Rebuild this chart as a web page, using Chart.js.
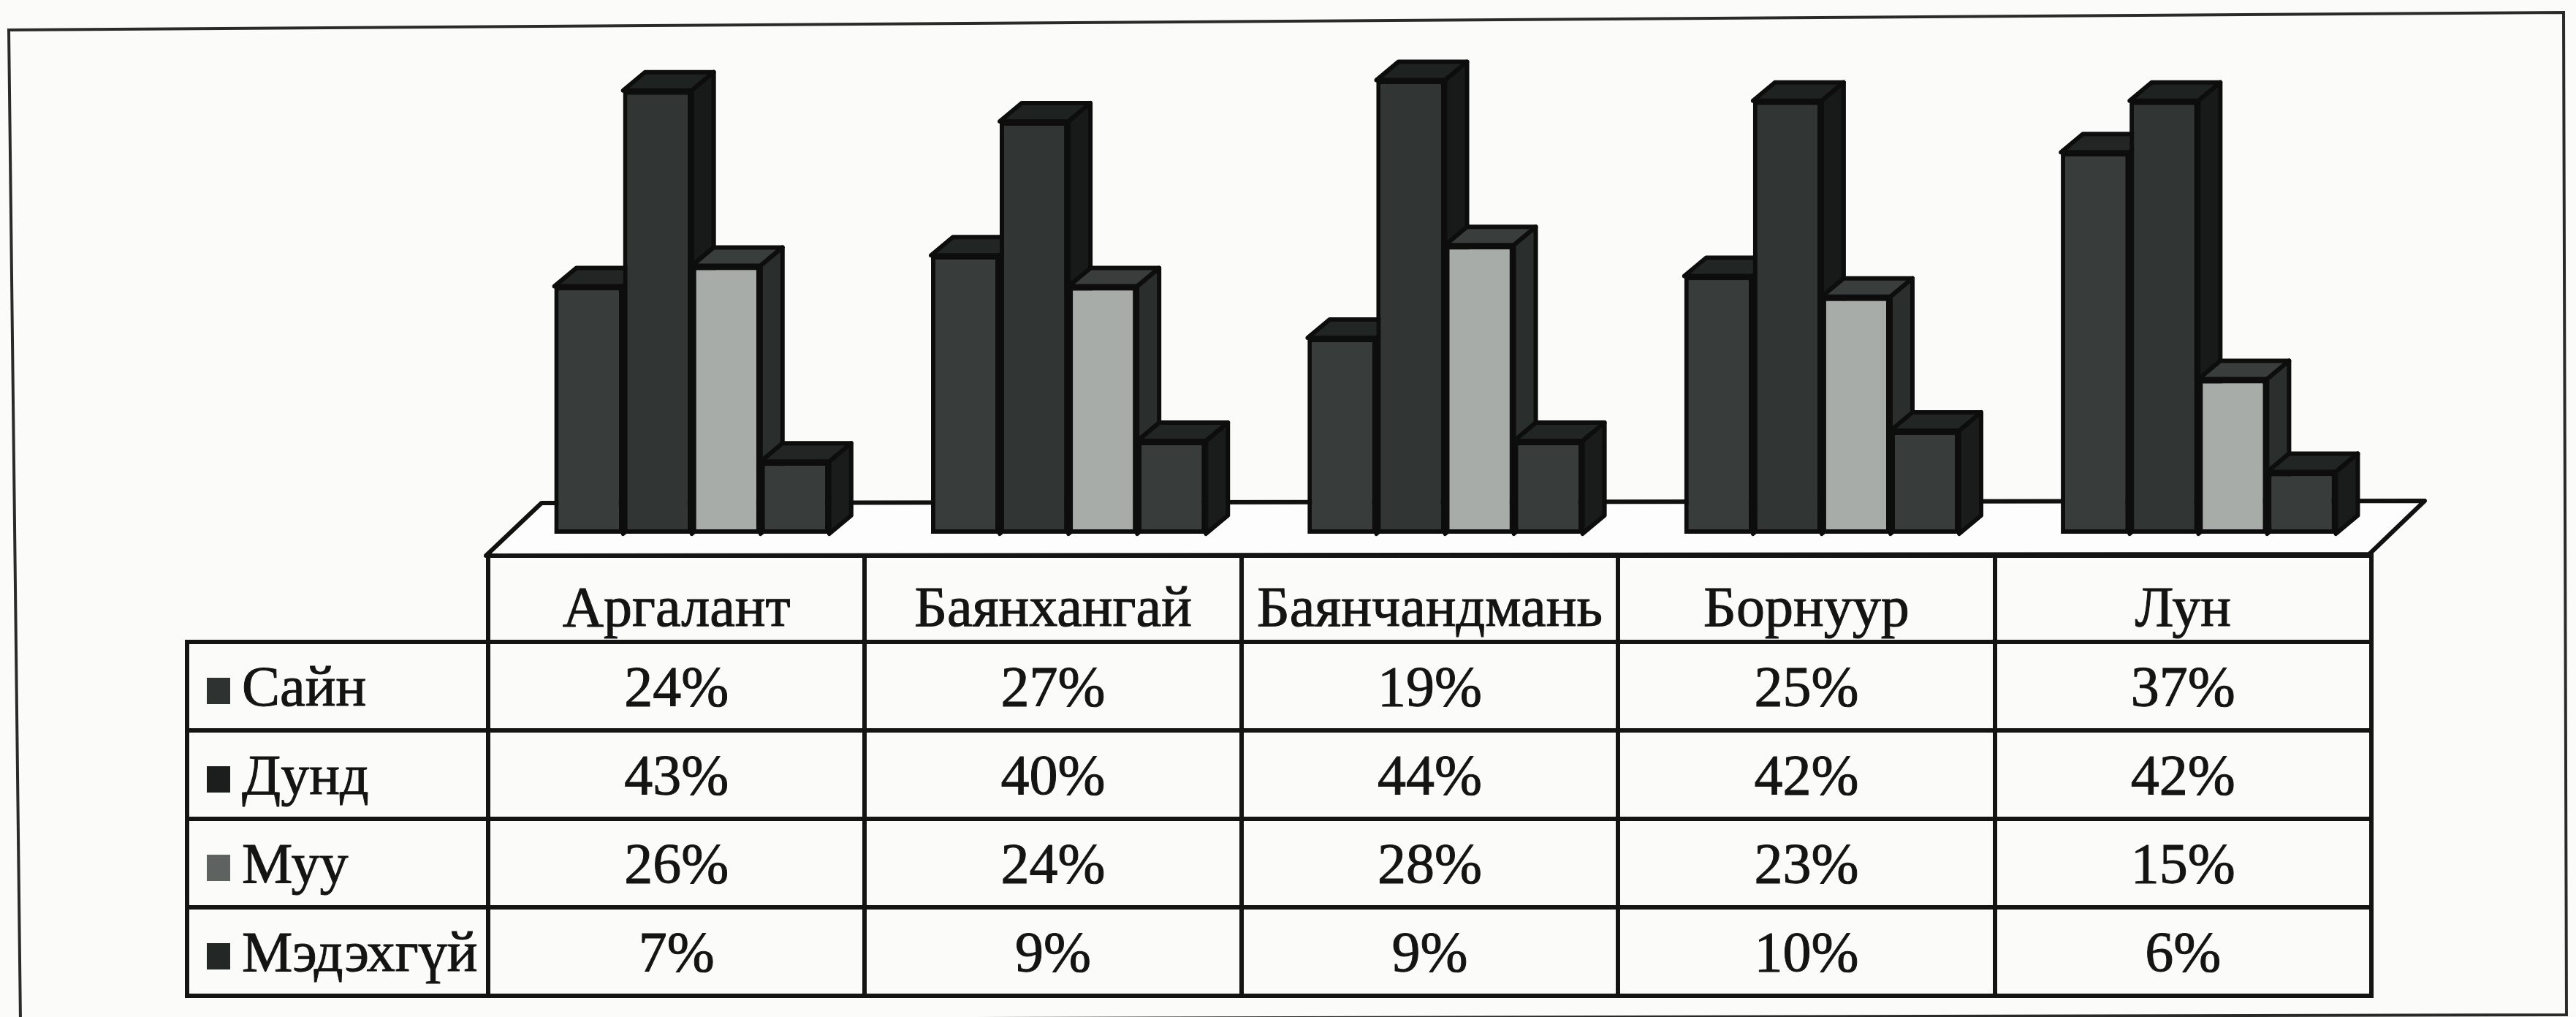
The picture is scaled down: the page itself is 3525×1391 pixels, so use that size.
<!DOCTYPE html>
<html>
<head>
<meta charset="utf-8">
<script src="https://cdn.jsdelivr.net/npm/chart.js@4/dist/chart.umd.min.js"></script>
<style>
    html, body { margin: 0; padding: 0; background: #fbfbfa; }
    #wrap { position: relative; width: 3525px; height: 1391px; overflow: hidden; }
    #chart { position: absolute; left: 0; top: 0; }
    #tbl {
        position: absolute; left: 253px; top: 757px;
        border-collapse: collapse; table-layout: fixed;
        font-family: "Liberation Serif", "DejaVu Serif", serif;
        font-size: 78px; color: #141414;
        -webkit-text-stroke: 1px #141414;
    }
    #tbl th, #tbl td { border: 6px solid #141414; padding: 0; line-height: 78px; white-space: nowrap; }
    #tbl th { height: 106px; vertical-align: bottom; padding-bottom: 6px; font-weight: normal; text-align: center; }
    #tbl th.corner { border-top: none; border-left: none; }
    #tbl td { height: 115px; vertical-align: middle; text-align: center; }
    #tbl td.lg { text-align: left; padding-left: 24px; }
    .mk { display: inline-block; width: 32px; height: 36px; margin-right: 16px; margin-bottom: 2px; vertical-align: baseline; }
</style>
</head>
<body>
<div id="wrap">
    <canvas id="chart" width="3525" height="1391"></canvas>
    <table id="tbl"></table>
</div>
<script>
// ===== data
const categories = ["Аргалант", "Баянхангай", "Баянчандмань", "Борнуур", "Лун"];
const seriesNames = ["Сайн", "Дунд", "Муу", "Мэдэхгүй"];
const sain = [24, 27, 19, 25, 37];
const dund = [43, 40, 44, 42, 42];
const muu = [26, 24, 28, 23, 15];
const medehgui = [7, 9, 9, 10, 6];
const yTicks = [0, 50]; // value range of the (hidden) axis

// ===== styles
const frontColors = ["#383d3c", "#313635", "#a7aca8", "#383d3c"];
const capColors = ["#212524", "#1e2221", "#393d3c", "#212524"];
const sideColors = ["#191c1b", "#171a19", "#2a2e2d", "#191c1b"];
const markColors = ["#2e3332", "#1b1e1d", "#5e6361", "#232726"];
const DEPTH_X = 30;
const DEPTH_Y = 25;

// 3D look: floor + caps + side faces, all taken from the bar elements
const bar3d = {
    id: "bar3d",
    beforeDatasetsDraw(chart) {
        const { ctx, chartArea: a } = chart;
        ctx.save();
        // outer frame (photo is slightly skewed)
        ctx.strokeStyle = "#2a2a2a";
        ctx.lineWidth = 4;
        ctx.beginPath();
        ctx.moveTo(12, 41);
        ctx.lineTo(3508, 17);
        ctx.lineTo(3512, 1388);
        ctx.lineTo(28, 1396);
        ctx.closePath();
        ctx.stroke();

        // floor
        ctx.fillStyle = "#fdfdfd";
        ctx.strokeStyle = "#111";
        ctx.lineWidth = 6;
        ctx.lineJoin = "round";
        ctx.beginPath();
        ctx.moveTo(a.left - 24, a.bottom + 30);
        ctx.lineTo(a.left + 52, a.bottom - 42);
        ctx.lineTo(a.right + 52, a.bottom - 45);
        ctx.lineTo(a.right - 24, a.bottom + 28);
        ctx.closePath();
        ctx.fill();
        ctx.stroke();
        ctx.restore();
    },
    afterDatasetsDraw(chart) {
        const ctx = chart.ctx;
        ctx.save();
        ctx.lineWidth = 6;
        ctx.lineJoin = "round";
        ctx.strokeStyle = "#0d0d0d";
        // left to right so the next front face hides the previous side face
        chart.data.datasets.forEach((ds, di) => {
            const meta = chart.getDatasetMeta(di);
            meta.data.forEach((el) => {
                el.draw(ctx);
                const { x, y, base, width } = el.getProps(["x", "y", "base", "width"], true);
                const l = x - width / 2;
                const r = x + width / 2;

                ctx.fillStyle = capColors[di];
                ctx.beginPath();
                ctx.moveTo(l, y);
                ctx.lineTo(l + DEPTH_X, y - DEPTH_Y);
                ctx.lineTo(r + DEPTH_X, y - DEPTH_Y);
                ctx.lineTo(r, y);
                ctx.closePath();
                ctx.fill();
                ctx.stroke();

                ctx.fillStyle = sideColors[di];
                ctx.beginPath();
                ctx.moveTo(r, y);
                ctx.lineTo(r + DEPTH_X, y - DEPTH_Y);
                ctx.lineTo(r + DEPTH_X, base - DEPTH_Y);
                ctx.lineTo(r, base);
                ctx.closePath();
                ctx.fill();
                ctx.stroke();
            });
        });
        ctx.restore();
    },
};

const seriesValues = [sain, dund, muu, medehgui];

new Chart(document.getElementById("chart"), {
    type: "bar",
    data: {
        labels: categories,
        datasets: seriesNames.map((name, i) => ({
            label: name,
            data: seriesValues[i],
            backgroundColor: frontColors[i],
            borderColor: "#0d0d0d",
            borderWidth: 6,
            borderSkipped: false,
            categoryPercentage: 0.73,
            barPercentage: 1.0,
        })),
    },
    options: {
        responsive: false,
        animation: false,
        devicePixelRatio: 1,
        layout: { padding: { left: 689, right: 259, top: 25, bottom: 661 } },
        plugins: { legend: { display: false }, tooltip: { enabled: false } },
        scales: {
            x: { display: false },
            y: { display: false, min: yTicks[0], max: yTicks[1] },
        },
    },
    plugins: [bar3d],
});

// ===== data table under the chart
function buildTable() {
    const tbl = document.getElementById("tbl");
    let html = '<colgroup><col style="width:412px">';
    categories.forEach(() => (html += '<col style="width:515.4px">'));
    html += "</colgroup><tr><th class=\"corner\"></th>";
    categories.forEach((c) => (html += `<th>${c}</th>`));
    html += "</tr>";
    seriesNames.forEach((name, i) => {
        html += `<tr><td class="lg"><span class="mk" style="background:${markColors[i]}"></span>${name}</td>`;
        seriesValues[i].forEach((v) => (html += `<td>${v}%</td>`));
        html += "</tr>";
    });
    tbl.innerHTML = html;
}
buildTable();
</script>
</body>
</html>
